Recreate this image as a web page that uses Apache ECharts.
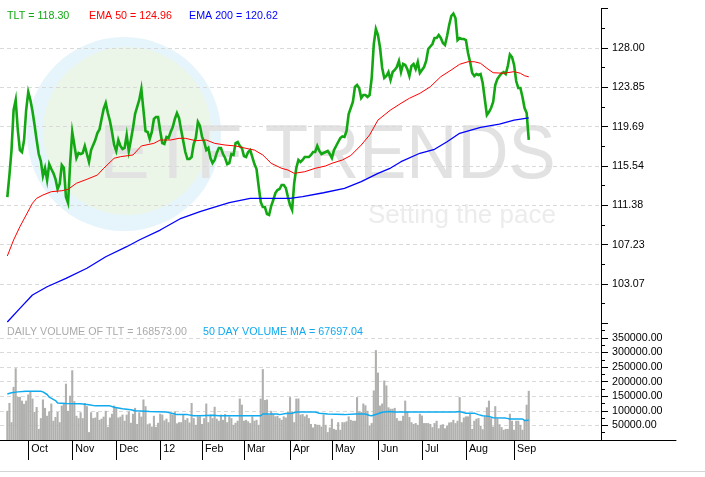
<!DOCTYPE html>
<html>
<head>
<meta charset="utf-8">
<script src="https://cdn.jsdelivr.net/npm/echarts@6/dist/echarts.min.js"></script>
<style>
  html, body { margin: 0; padding: 0; background: #fff; }
  #chart { width: 705px; height: 477px; }
</style>
</head>
<body>
<div id="chart"></div>
<script>
// trading-day slots on the x axis, first data day and month starts
const dayCount = 287
const firstDay = 3
const monthLabels = ['Oct', 'Nov', 'Dec', '12', 'Feb', 'Mar', 'Apr', 'May', 'Jun', 'Jul', 'Aug', 'Sep']
const monthStart = [13, 34, 55, 76, 96, 116, 138, 158, 180, 201, 222, 245]

// TLT daily close, one value per trading day from firstDay
const tltClose = [
  112.26, 114.58, 117.22, 121.45, 122.51, 119.34, 117.22, 117.01, 118.28, 121.45,
  123.35, 122.51, 121.34, 119.86, 118.28, 116.80, 116.06, 114.48, 115.32, 114.05,
  115.74, 115.22, 114.79, 114.16, 113.10, 113.63, 115.64, 115.32, 112.26, 111.62,
  115.85, 119.13, 117.75, 116.38, 116.91, 116.80, 116.91, 117.65, 116.80, 115.96,
  117.22, 117.75, 118.28, 119.02, 119.39, 120.50, 121.56, 122.19, 121.13, 120.29,
  119.13, 117.75, 117.12, 118.28, 117.65, 117.33, 117.44, 118.81, 117.12, 118.28,
  119.55, 121.03, 121.77, 122.51, 123.67, 121.45, 119.23, 119.13, 118.39, 119.13,
  120.50, 120.71, 120.71, 119.23, 117.96, 117.86, 118.60, 118.49, 119.13, 119.65,
  120.50, 121.13, 120.60, 119.34, 118.17, 117.01, 116.27, 116.27, 116.48, 117.86,
  118.49, 120.18, 119.76, 118.60, 118.07, 117.22, 117.44, 116.38, 115.85, 116.17,
  116.91, 117.44, 117.44, 116.80, 116.38, 115.74, 115.85, 116.80, 116.70, 117.96,
  118.07, 117.65, 117.44, 116.59, 116.48, 117.01, 117.22, 116.48, 115.74, 115.22,
  113.42, 111.73, 111.20, 111.20, 110.46, 110.36, 111.31, 111.94, 112.68, 113.00,
  113.10, 113.53, 113.53, 113.21, 112.26, 111.41, 110.89, 113.74, 115.32, 116.17,
  115.96, 116.17, 116.48, 116.48, 116.48, 116.70, 117.01, 117.01, 117.65, 117.12,
  116.80, 116.91, 117.01, 117.12, 116.80, 116.38, 117.22, 117.65, 118.07, 118.49,
  118.65, 118.60, 119.23, 121.03, 121.66, 122.29, 123.88, 124.09, 123.77, 122.72,
  123.03, 123.03, 122.82, 123.03, 124.83, 128.42, 130.01, 129.37, 128.00, 125.89,
  124.83, 125.04, 125.46, 124.62, 125.46, 125.68, 125.99, 126.63, 125.46, 126.31,
  126.20, 125.78, 125.04, 126.10, 126.31, 125.78, 126.52, 125.36, 125.68, 125.99,
  126.63, 127.89, 128.16, 128.42, 129.06, 129.06, 129.37, 129.06, 128.53, 128.32,
  129.27, 130.43, 131.38, 131.64, 131.17, 128.84, 129.06, 128.95, 128.95, 128.84,
  127.47, 126.52, 125.36, 125.04, 125.25, 125.15, 125.25, 124.30, 122.61, 120.92,
  121.24, 121.66, 122.29, 124.09, 124.72, 125.04, 125.31, 125.46, 125.25, 126.10,
  127.31, 127.05, 126.20, 124.51, 123.77, 123.77, 122.82, 121.66, 121.13, 118.30
]

// moving averages read at [trading day, value]
const ema50 = [
  [3, 106.03], [6, 107.72], [9, 109.12], [12, 110.36], [15, 111.60], [17, 112.12],
  [20, 112.47], [24, 112.82], [29, 112.92], [32, 113.07], [36, 113.71], [41, 114.13],
  [46, 114.58], [49, 115.29], [54, 116.35], [57, 116.52], [63, 116.70], [67, 117.65],
  [73, 117.93], [76, 118.28], [81, 118.28], [85, 118.46], [88, 118.46], [93, 118.21],
  [98, 118.28], [102, 117.93], [107, 117.75], [112, 117.65], [117, 117.40], [121, 117.22],
  [125, 116.70], [129, 115.82], [134, 115.29], [137, 115.11], [140, 114.76], [145, 114.93],
  [150, 115.29], [155, 115.54], [158, 115.82], [163, 116.17], [167, 116.64], [172, 117.75],
  [176, 118.81], [180, 120.39], [186, 121.45], [191, 122.16], [195, 122.69], [200, 123.21],
  [205, 123.91], [210, 124.97], [215, 125.68], [219, 126.28], [223, 126.55], [226, 126.55],
  [229, 126.38], [232, 125.86], [235, 125.39], [240, 125.33], [245, 125.50], [248, 125.33],
  [250, 125.07], [252, 124.96]
]
const ema200 = [
  [3, 99.05], [9, 100.50], [15, 101.91], [22, 102.78], [31, 103.67], [41, 104.73],
  [50, 105.95], [60, 107.01], [66, 107.72], [76, 108.77], [86, 110.01], [95, 110.71],
  [100, 111.07], [109, 111.66], [119, 112.12], [129, 112.12], [138, 112.12], [144, 112.29],
  [154, 112.71], [164, 113.18], [172, 113.88], [180, 114.76], [186, 115.32], [191, 115.99],
  [200, 116.88], [207, 117.30], [213, 118.10], [219, 118.99], [229, 119.62], [238, 119.97],
  [245, 120.39], [252, 120.62]
]

// daily volume from firstDay
const volume = [
  100000, 127000, 61000, 182000, 246000, 148000, 148000, 135000, 124000, 135000,
  156000, 167000, 142000, 96000, 113000, 38000, 75000, 139000, 110000, 83000,
  98000, 125000, 66000, 79000, 96000, 61000, 118000, 124000, 193000, 100000,
  152000, 239000, 133000, 83000, 75000, 95000, 75000, 127000, 116000, 27000,
  95000, 75000, 77000, 96000, 69000, 73000, 80000, 100000, 45000, 77000,
  90000, 118000, 112000, 77000, 80000, 87000, 66000, 87000, 98000, 59000,
  90000, 110000, 55000, 95000, 80000, 139000, 116000, 54000, 57000, 46000,
  83000, 45000, 59000, 90000, 87000, 67000, 73000, 61000, 90000, 87000,
  98000, 57000, 61000, 61000, 87000, 69000, 75000, 60000, 127000, 75000,
  52000, 81000, 81000, 55000, 75000, 125000, 61000, 87000, 75000, 114000,
  73000, 66000, 87000, 69000, 89000, 61000, 81000, 75000, 52000, 59000,
  66000, 142000, 121000, 66000, 69000, 64000, 58000, 81000, 66000, 69000,
  52000, 142000, 243000, 137000, 139000, 87000, 100000, 89000, 81000, 83000,
  75000, 69000, 81000, 77000, 96000, 147000, 98000, 61000, 142000, 142000,
  87000, 89000, 81000, 87000, 75000, 55000, 43000, 55000, 52000, 52000,
  46000, 87000, 52000, 27000, 43000, 73000, 38000, 35000, 61000, 35000,
  61000, 61000, 64000, 81000, 69000, 66000, 66000, 147000, 98000, 96000,
  125000, 119000, 100000, 50000, 58000, 170000, 308000, 231000, 118000, 125000,
  204000, 187000, 112000, 107000, 107000, 110000, 75000, 66000, 66000, 83000,
  135000, 96000, 79000, 61000, 55000, 58000, 52000, 90000, 84000, 58000,
  58000, 58000, 55000, 44000, 58000, 66000, 40000, 52000, 54000, 40000,
  50000, 60000, 61000, 69000, 58000, 66000, 147000, 61000, 77000, 81000,
  81000, 92000, 38000, 66000, 73000, 75000, 49000, 37000, 81000, 112000,
  135000, 75000, 46000, 116000, 75000, 54000, 44000, 35000, 38000, 38000,
  90000, 66000, 35000, 66000, 66000, 52000, 35000, 69000, 121000, 168573
]
const volumeMa = [
  [3, 158000], [5, 162000], [8, 165000], [12, 167000], [19, 167000], [20, 165000],
  [22, 156000], [23, 147000], [26, 135000], [27, 127000], [31, 125000], [38, 124000],
  [42, 121000], [45, 117000], [52, 117000], [54, 112000], [58, 107000], [62, 104000],
  [64, 100000], [71, 98000], [79, 96000], [82, 91000], [84, 87000], [89, 87000],
  [92, 83000], [95, 83000], [101, 85000], [104, 83000], [124, 83000], [125, 89000],
  [132, 89000], [133, 87000], [136, 91000], [139, 92000], [141, 96000], [150, 96000],
  [152, 92000], [156, 89000], [164, 87000], [169, 89000], [174, 89000], [176, 84000],
  [177, 83000], [180, 90000], [182, 95000], [185, 98000], [188, 96000], [217, 96000],
  [219, 98000], [222, 92000], [226, 92000], [228, 87000], [230, 83000], [233, 81000],
  [235, 76000], [241, 75000], [243, 72000], [249, 72000], [250, 67000], [252, 67697.04]
]

const FONT = '"Liberation Sans", Arial, sans-serif'
const days = Array.from({ length: dayCount }, (_, i) => String(i))
const pad = arr => Array(firstDay).fill(null).concat(arr)
const monthName = v => {
  const k = monthStart.indexOf(Number(v))
  return k >= 0 ? monthLabels[k] : ''
}

const chart = echarts.init(document.getElementById('chart'))

const legendText = (text, x, y, color) => ({
  type: 'text', x, y, z: 20,
  style: { text, fill: color, font: '10.7px ' + FONT, verticalAlign: 'middle' }
})

const axisBlack = { show: true, lineStyle: { color: '#000', width: 1 } }
const gridDash = { color: '#d9d9d9', type: [4, 3], width: 1 }

chart.setOption({
  animation: false,
  backgroundColor: '#fff',
  textStyle: { fontFamily: FONT },
  grid: [
    { left: 0, top: 8.67, width: 601, height: 314.66 },
    { left: 0, top: 323.33, width: 601, height: 116.67 },
    { left: 601, top: 400, width: 75, height: 40 }
  ],
  xAxis: [
    { type: 'category', gridIndex: 0, data: days, boundaryGap: true, show: false },
    {
      type: 'category', gridIndex: 1, data: days, boundaryGap: true,
      axisLine: axisBlack,
      // month ticks sit at the first trading day of each month
      axisTick: { show: true, alignWithLabel: true, customValues: monthStart, length: 20, lineStyle: { color: '#000', width: 1 } },
      axisLabel: {
        show: true,
        customValues: monthStart,
        formatter: v => monthName(v),
        align: 'left', padding: [0, 0, 0, 3], margin: 4,
        color: '#000', fontSize: 10.7, fontFamily: FONT
      },
      splitLine: { show: false }
    },
    {
      type: 'value', gridIndex: 2, min: 0, max: 1,
      axisLine: { show: true, onZero: false, lineStyle: { color: '#000' } },
      axisTick: { show: false }, axisLabel: { show: false }, splitLine: { show: false }
    }
  ],
  yAxis: [
    {
      type: 'value', gridIndex: 0, position: 'right',
      min: 98.915, max: 132.155, interval: 4.155,
      axisLine: { show: true, lineStyle: { color: '#000' } },
      axisTick: { show: true, length: 7, lineStyle: { color: '#000' } },
      minorTick: { show: true, splitNumber: 2, length: 4, lineStyle: { color: '#000' } },
      axisLabel: {
        margin: 11, color: '#000', fontSize: 10.7, fontFamily: FONT,
        showMinLabel: false, showMaxLabel: false,
        formatter: v => (v + 1e-6).toFixed(2)
      },
      splitLine: { show: true, showMinLine: false, showMaxLine: false, lineStyle: gridDash }
    },
    {
      type: 'value', gridIndex: 1, position: 'right',
      min: 0, max: 400000, interval: 50000,
      axisLine: { show: true, lineStyle: { color: '#000' } },
      axisTick: { show: true, length: 7, lineStyle: { color: '#000' } },
      minorTick: { show: true, splitNumber: 2, length: 4, lineStyle: { color: '#000' } },
      axisLabel: {
        margin: 11, color: '#000', fontSize: 10.7, fontFamily: FONT,
        showMinLabel: false, showMaxLabel: false,
        formatter: v => v.toFixed(2)
      },
      splitLine: { show: true, showMinLine: false, showMaxLine: false, lineStyle: gridDash }
    },
    { type: 'value', gridIndex: 2, show: false }
  ],
  graphic: [
    // watermark logo
    { type: 'circle', z: -10, shape: { cx: 124, cy: 134, r: 97 }, style: { fill: '#e6f4fb' } },
    { type: 'circle', z: -9, shape: { cx: 127, cy: 131, r: 84 }, style: { fill: '#ebf5e8' } },
    { type: 'text', z: -8, x: 99, y: 157, style: { text: 'ETF', fill: '#e2e2e2', font: '76px ' + FONT, verticalAlign: 'middle' } },
    { type: 'text', z: -8, x: 265, y: 157, scaleX: 0.93, style: { text: 'TRENDS', fill: '#e2e2e2', font: '76px ' + FONT, verticalAlign: 'middle' } },
    { type: 'text', z: -8, x: 368, y: 216, style: { text: 'Setting the pace', fill: '#ececec', font: '26px ' + FONT, verticalAlign: 'middle' } },
    // headers
    legendText('TLT = 118.30', 7, 16, '#13a813'),
    legendText('EMA 50 = 124.96', 89, 16, '#ff0000'),
    legendText('EMA 200 = 120.62', 189, 16, '#0000ff'),
    legendText('DAILY VOLUME OF TLT = 168573.00', 7, 332, '#aaaaaa'),
    legendText('50 DAY VOLUME MA = 67697.04', 203, 332, '#10aaee'),
    // frame line at bottom
    { type: 'line', z: 5, shape: { x1: 0, y1: 471.5, x2: 705, y2: 471.5 }, style: { stroke: '#d4d4d4', lineWidth: 1 } }
  ],
  series: [
    {
      name: 'Volume', type: 'bar', xAxisIndex: 1, yAxisIndex: 1,
      data: pad(volume), barCategoryGap: '0%',
      itemStyle: { color: '#b0b1ae' }
    },
    {
      name: '50 Day Volume MA', type: 'line', xAxisIndex: 1, yAxisIndex: 1,
      data: volumeMa, showSymbol: false, z: 4,
      lineStyle: { color: '#10aaee', width: 1.5 }
    },
    {
      name: 'TLT', type: 'line', xAxisIndex: 0, yAxisIndex: 0,
      data: pad(tltClose), showSymbol: false, z: 3,
      lineStyle: { color: '#13a813', width: 2.6, join: 'miter' }
    },
    {
      name: 'EMA 50', type: 'line', xAxisIndex: 0, yAxisIndex: 0,
      data: ema50, showSymbol: false, z: 4,
      lineStyle: { color: '#ff0000', width: 1 }
    },
    {
      name: 'EMA 200', type: 'line', xAxisIndex: 0, yAxisIndex: 0,
      data: ema200, showSymbol: false, z: 4,
      lineStyle: { color: '#0000ff', width: 1.3 }
    }
  ]
})
</script>
</body>
</html>
